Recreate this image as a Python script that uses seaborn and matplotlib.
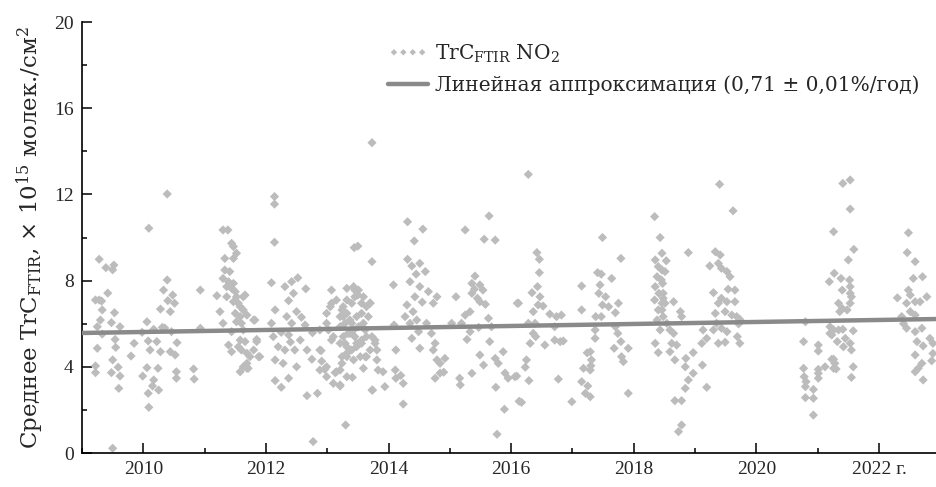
import numpy as np
import pandas as pd
import matplotlib
matplotlib.use('Agg')
import matplotlib.pyplot as plt
from matplotlib.ticker import MultipleLocator
import seaborn as sns

# (decimal year, TrC FTIR NO2, x 10^15 molec/cm^2)
obs_2009 = [(2009.22, 7.10), (2009.28, 7.10), (2009.32, 7.05), (2009.28, 8.99), (2009.39, 8.60),
            (2009.52, 8.72), (2009.50, 8.50), (2009.42, 7.42), (2009.33, 6.64), (2009.30, 6.17),
            (2009.53, 6.51), (2009.25, 5.86), (2009.48, 6.05), (2009.62, 5.86), (2009.33, 5.52),
            (2009.54, 5.27), (2009.25, 4.86), (2009.55, 4.90), (2009.22, 4.04), (2009.22, 3.73),
            (2009.50, 4.32), (2009.48, 3.73), (2009.59, 3.98), (2009.62, 3.57), (2009.60, 3.00),
            (2009.50, 0.22), (2009.80, 4.50), (2009.85, 5.09), (2009.98, 5.60)]
obs_2010 = [(2010.06, 6.09), (2010.09, 10.43), (2010.08, 5.20), (2010.11, 4.78), (2010.22, 5.17),
            (2010.28, 4.70), (2010.17, 5.74), (2010.31, 5.83), (2010.06, 3.96), (2009.99, 3.57),
            (2010.17, 3.39), (2010.15, 3.11), (2010.25, 2.92), (2010.08, 2.77), (2010.09, 2.12),
            (2010.24, 3.93), (2010.28, 6.68), (2010.33, 7.56), (2010.39, 8.03), (2010.39, 12.02),
            (2010.40, 7.07), (2010.48, 7.33), (2010.51, 6.95), (2010.44, 6.56), (2010.46, 5.63),
            (2010.44, 4.70), (2010.52, 4.55), (2010.55, 5.12), (2010.54, 3.77), (2010.54, 3.47),
            (2010.35, 5.80), (2010.82, 3.90), (2010.83, 3.43), (2010.93, 7.56), (2010.93, 5.79)]
obs_2011 = [(2011.25, 6.56), (2011.30, 6.02), (2011.30, 10.35), (2011.38, 10.35), (2011.44, 9.73),
            (2011.47, 9.58), (2011.52, 9.27), (2011.33, 9.03), (2011.47, 9.03), (2011.33, 8.49),
            (2011.41, 8.42), (2011.30, 8.10), (2011.39, 7.95), (2011.47, 7.87), (2011.36, 7.72),
            (2011.44, 7.64), (2011.50, 7.49), (2011.52, 7.25), (2011.36, 7.25), (2011.47, 7.02),
            (2011.55, 6.95), (2011.63, 7.25), (2011.58, 6.79), (2011.63, 6.64), (2011.50, 6.48),
            (2011.58, 6.33), (2011.69, 6.40), (2011.52, 6.09), (2011.60, 6.02), (2011.63, 5.71),
            (2011.80, 6.17), (2011.44, 5.63), (2011.58, 5.24), (2011.66, 5.17), (2011.55, 4.93),
            (2011.60, 4.78), (2011.69, 4.63), (2011.74, 4.47), (2011.69, 4.16), (2011.63, 4.00),
            (2011.71, 3.93), (2011.58, 3.77), (2011.44, 4.70), (2011.80, 4.78), (2011.85, 5.17),
            (2011.90, 4.47), (2011.39, 5.01), (2011.66, 7.33), (2011.82, 6.17), (2011.85, 5.27),
            (2011.88, 4.47), (2011.69, 3.93), (2011.20, 7.30)]
obs_2012 = [(2012.14, 11.90), (2012.14, 11.55), (2012.14, 9.78), (2012.09, 7.90), (2012.31, 7.72),
            (2012.42, 7.95), (2012.52, 8.13), (2012.65, 7.62), (2012.45, 7.41), (2012.37, 7.07),
            (2012.15, 6.64), (2012.50, 6.56), (2012.34, 6.33), (2012.09, 6.02), (2012.42, 6.02),
            (2012.64, 5.94), (2012.76, 5.58), (2012.12, 5.40), (2012.37, 5.48), (2012.56, 5.24),
            (2012.20, 4.93), (2012.31, 4.78), (2012.47, 4.78), (2012.67, 4.78), (2012.15, 4.32),
            (2012.28, 4.16), (2012.50, 4.00), (2012.75, 4.35), (2012.15, 3.36), (2012.25, 3.05),
            (2012.37, 3.47), (2012.67, 2.66), (2012.84, 2.77), (2012.77, 0.53), (2012.90, 4.75),
            (2012.99, 3.54), (2012.96, 3.88), (2012.91, 4.26), (2012.88, 5.71), (2012.88, 4.78),
            (2012.99, 4.00), (2012.88, 3.85), (2012.99, 6.02), (2012.99, 6.48), (2012.25, 5.60),
            (2012.40, 5.15), (2012.58, 6.30)]
obs_2013 = [(2013.07, 7.56), (2013.07, 6.95), (2013.07, 5.24), (2013.30, 1.30), (2013.21, 3.11),
            (2013.13, 3.73), (2013.41, 3.51), (2013.24, 4.47), (2013.29, 5.09), (2013.21, 5.86),
            (2013.26, 6.33), (2013.24, 6.64), (2013.32, 7.10), (2013.45, 7.56), (2013.50, 7.33),
            (2013.56, 6.95), (2013.40, 6.02), (2013.37, 5.55), (2013.45, 5.40), (2013.48, 4.93),
            (2013.40, 4.78), (2013.32, 4.63), (2013.56, 5.09), (2013.62, 5.71), (2013.67, 6.33),
            (2013.62, 4.47), (2013.59, 3.93), (2013.73, 2.92), (2013.44, 9.53), (2013.50, 9.60),
            (2013.73, 14.40), (2013.73, 8.88), (2013.32, 7.64), (2013.43, 7.72), (2013.51, 7.56),
            (2013.59, 7.25), (2013.45, 7.25), (2013.40, 6.95), (2013.26, 6.79), (2013.32, 6.48),
            (2013.21, 6.33), (2013.29, 6.02), (2013.37, 6.17), (2013.48, 6.33), (2013.56, 6.48),
            (2013.64, 6.79), (2013.70, 6.95), (2013.59, 6.02), (2013.51, 5.86), (2013.43, 5.71),
            (2013.34, 5.55), (2013.26, 5.40), (2013.21, 5.09), (2013.32, 4.93), (2013.48, 5.09),
            (2013.56, 5.24), (2013.64, 5.40), (2013.73, 5.40), (2013.78, 5.09), (2013.81, 4.78),
            (2013.70, 4.78), (2013.64, 4.47), (2013.54, 4.47), (2013.43, 4.32), (2013.32, 4.47),
            (2013.24, 4.16), (2013.21, 3.85), (2013.32, 3.54), (2013.15, 3.77), (2013.10, 5.40),
            (2013.02, 5.71), (2013.05, 6.79), (2013.15, 7.10), (2013.10, 3.23), (2013.21, 3.16),
            (2013.70, 6.96), (2013.78, 5.24), (2013.81, 4.32), (2013.83, 3.85), (2013.91, 3.77),
            (2013.74, 2.92), (2013.94, 3.08)]
obs_2014 = [(2014.08, 7.80), (2014.09, 5.94), (2014.12, 4.78), (2014.11, 3.85), (2014.12, 3.47),
            (2014.24, 3.23), (2014.24, 2.27), (2014.20, 3.60), (2014.31, 10.73), (2014.56, 10.39),
            (2014.42, 9.84), (2014.31, 8.99), (2014.38, 8.68), (2014.51, 8.80), (2014.60, 8.42),
            (2014.35, 7.95), (2014.51, 7.72), (2014.65, 7.49), (2014.79, 7.25), (2014.73, 6.95),
            (2014.43, 7.25), (2014.30, 6.87), (2014.40, 6.56), (2014.27, 6.33), (2014.46, 6.17),
            (2014.35, 6.02), (2014.62, 6.02), (2014.49, 5.63), (2014.70, 5.55), (2014.38, 5.32),
            (2014.51, 4.86), (2014.76, 5.09), (2014.73, 4.78), (2014.79, 4.32), (2014.84, 4.16),
            (2014.92, 4.39), (2014.84, 3.71), (2014.76, 3.47), (2014.90, 3.75), (2014.55, 7.00),
            (2014.45, 8.30)]
obs_2015 = [(2015.03, 6.02), (2015.10, 7.25), (2015.25, 10.35), (2015.64, 11.00), (2015.56, 9.92),
            (2015.74, 9.88), (2015.41, 8.21), (2015.36, 7.87), (2015.49, 7.80), (2015.54, 7.56),
            (2015.36, 7.41), (2015.45, 7.18), (2015.49, 7.02), (2015.33, 6.56), (2015.25, 6.40),
            (2015.19, 6.02), (2015.33, 5.63), (2015.28, 5.27), (2015.47, 5.83), (2015.63, 6.25),
            (2015.68, 5.86), (2015.65, 5.17), (2015.49, 4.55), (2015.55, 4.08), (2015.36, 3.70),
            (2015.16, 3.47), (2015.17, 3.16), (2015.74, 4.39), (2015.79, 4.16), (2015.87, 4.70),
            (2015.90, 3.71), (2015.95, 3.47), (2015.75, 3.05), (2015.89, 2.03), (2015.77, 0.87),
            (2015.40, 7.60), (2015.58, 6.90)]
obs_2016 = [(2016.06, 3.54), (2016.10, 6.95), (2016.13, 2.40), (2016.28, 12.93), (2016.42, 9.30),
            (2016.46, 8.99), (2016.46, 8.37), (2016.43, 7.72), (2016.34, 7.44), (2016.47, 7.25),
            (2016.44, 6.87), (2016.52, 6.82), (2016.36, 6.56), (2016.12, 6.95), (2016.28, 6.02),
            (2016.39, 6.02), (2016.36, 5.55), (2016.40, 5.40), (2016.31, 5.09), (2016.55, 5.01),
            (2016.63, 6.45), (2016.74, 6.33), (2016.82, 6.40), (2016.71, 5.86), (2016.71, 5.24),
            (2016.80, 5.17), (2016.85, 5.20), (2016.25, 4.32), (2016.23, 3.98), (2016.09, 3.57),
            (2016.29, 3.36), (2016.77, 3.43), (2016.17, 2.35), (2016.99, 2.38)]
obs_2017 = [(2017.15, 7.75), (2017.15, 6.64), (2017.49, 10.00), (2017.41, 8.37), (2017.47, 8.30),
            (2017.64, 8.10), (2017.45, 7.80), (2017.43, 7.41), (2017.54, 7.25), (2017.49, 6.87),
            (2017.59, 6.79), (2017.70, 6.51), (2017.75, 6.95), (2017.38, 6.33), (2017.47, 6.33),
            (2017.79, 9.03), (2017.37, 5.71), (2017.37, 5.32), (2017.70, 5.86), (2017.74, 5.55),
            (2017.79, 5.17), (2017.91, 4.86), (2017.68, 4.86), (2017.80, 4.47), (2017.83, 4.24),
            (2017.29, 4.70), (2017.24, 4.65), (2017.31, 4.32), (2017.18, 3.93), (2017.29, 3.85),
            (2017.15, 3.31), (2017.25, 3.11), (2017.21, 2.77), (2017.29, 2.61), (2017.91, 2.77),
            (2017.30, 4.05)]
obs_2018 = [(2018.34, 10.97), (2018.43, 10.00), (2018.46, 9.27), (2018.35, 8.96), (2018.40, 8.65),
            (2018.38, 8.18), (2018.45, 8.03), (2018.35, 7.72), (2018.41, 7.41), (2018.34, 7.10),
            (2018.46, 6.95), (2018.40, 6.64), (2018.38, 6.17), (2018.43, 5.71), (2018.35, 5.09),
            (2018.40, 4.66), (2018.53, 8.92), (2018.46, 8.49), (2018.51, 8.42), (2018.47, 7.87),
            (2018.48, 7.41), (2018.48, 7.18), (2018.51, 6.95), (2018.46, 6.64), (2018.48, 6.33),
            (2018.54, 6.02), (2018.65, 7.02), (2018.76, 6.56), (2018.78, 6.33), (2018.59, 5.71),
            (2018.65, 5.55), (2018.62, 5.09), (2018.70, 5.01), (2018.59, 4.70), (2018.67, 4.32),
            (2018.85, 4.39), (2018.97, 4.66), (2018.84, 4.00), (2018.89, 3.39), (2018.97, 3.70),
            (2018.84, 3.00), (2018.67, 2.43), (2018.78, 2.43), (2018.78, 1.30), (2018.73, 0.99),
            (2018.89, 9.30), (2019.13, 5.71), (2019.11, 5.09), (2019.12, 4.08), (2019.19, 3.05),
            (2019.19, 5.32)]
obs_2019 = [(2019.40, 12.47), (2019.62, 11.24), (2019.24, 8.68), (2019.33, 9.34), (2019.41, 9.19),
            (2019.38, 8.80), (2019.43, 8.57), (2019.52, 8.42), (2019.57, 8.18), (2019.30, 7.44),
            (2019.54, 7.60), (2019.65, 7.56), (2019.43, 7.18), (2019.52, 7.02), (2019.65, 7.02),
            (2019.38, 6.95), (2019.49, 6.56), (2019.60, 6.40), (2019.68, 6.33), (2019.33, 6.48),
            (2019.35, 6.02), (2019.43, 5.79), (2019.52, 5.63), (2019.30, 5.71), (2019.38, 5.09),
            (2019.49, 5.14), (2019.69, 5.40), (2019.73, 5.09), (2019.71, 5.99), (2019.73, 6.20)]
obs_2020 = [(2020.80, 6.09), (2020.77, 5.17), (2020.77, 3.93), (2020.78, 3.54), (2020.81, 3.31),
            (2020.80, 3.08), (2020.80, 2.57), (2020.93, 2.54), (2020.93, 2.95), (2020.93, 1.76)]
obs_2021 = [(2021.01, 5.01), (2021.01, 4.73), (2021.01, 3.70), (2021.01, 3.47), (2021.01, 3.88),
            (2021.12, 4.00), (2021.26, 3.93), (2021.30, 3.90), (2021.26, 4.35), (2021.26, 10.27),
            (2021.19, 7.95), (2021.27, 8.34), (2021.38, 8.10), (2021.40, 7.56), (2021.52, 8.03),
            (2021.53, 7.72), (2021.53, 7.41), (2021.55, 7.25), (2021.41, 12.51), (2021.53, 12.67),
            (2021.53, 11.32), (2021.59, 9.45), (2021.50, 8.96), (2021.34, 6.95), (2021.40, 6.71),
            (2021.48, 6.64), (2021.36, 6.56), (2021.53, 6.95), (2021.20, 5.86), (2021.26, 5.71),
            (2021.34, 5.71), (2021.41, 5.74), (2021.20, 5.55), (2021.23, 5.48), (2021.32, 5.17),
            (2021.45, 5.32), (2021.53, 5.09), (2021.58, 5.67), (2021.42, 4.93), (2021.55, 4.78),
            (2021.58, 4.00), (2021.55, 3.51), (2021.23, 4.35), (2021.28, 4.16)]
obs_2022 = [(2022.48, 10.22), (2022.46, 9.30), (2022.59, 8.88), (2022.56, 8.10), (2022.71, 8.18),
            (2022.48, 7.56), (2022.51, 7.33), (2022.45, 6.95), (2022.59, 7.02), (2022.67, 7.02),
            (2022.78, 7.25), (2022.37, 6.33), (2022.51, 6.56), (2022.59, 6.40), (2022.45, 5.79),
            (2022.59, 5.63), (2022.70, 5.79), (2022.62, 5.17), (2022.72, 4.97), (2022.83, 5.32),
            (2022.88, 5.09), (2022.59, 4.55), (2022.70, 4.16), (2022.64, 3.93), (2022.59, 3.77),
            (2022.72, 3.39), (2022.86, 4.28), (2022.88, 4.62), (2022.30, 7.20), (2022.40, 6.00)]

# linear fit (0.71 +- 0.01 %/yr) as drawn
trend_years = [2009.0, 2023.0]
trend_values = [5.57, 6.22]

year_ticks = [2010, 2012, 2014, 2016, 2018, 2020, 2022]
year_labels = ['2010', '2012', '2014', '2016', '2018', '2020', '2022 г.']

all_obs = (obs_2009 + obs_2010 + obs_2011 + obs_2012 + obs_2013 + obs_2014 + obs_2015
           + obs_2016 + obs_2017 + obs_2018 + obs_2019 + obs_2020 + obs_2021 + obs_2022)
df = pd.DataFrame(all_obs, columns=['year', 'trc'])
trend_df = pd.DataFrame({'year': trend_years, 'trc': trend_values})

sns.set_style('ticks')
plt.rcParams['font.family'] = ['Liberation Serif', 'DejaVu Serif']
plt.rcParams['mathtext.fontset'] = 'custom'
plt.rcParams['mathtext.rm'] = 'DejaVu Serif'
plt.rcParams['mathtext.it'] = 'DejaVu Serif:italic'

fig, ax = plt.subplots(figsize=(9.36, 4.87), dpi=100)
fig.subplots_adjust(left=0.0876, right=1.0, bottom=0.0698, top=0.9548)

sns.scatterplot(data=df, x='year', y='trc', marker='D', s=22, color='#bcbcbc',
                edgecolor='none', linewidth=0, ax=ax,
                label=r'TrC$_{\mathrm{FTIR}}$ NO$_2$', zorder=2)
sns.lineplot(data=trend_df, x='year', y='trc', color='#8a8a8a', linewidth=3.2, ax=ax,
             label='Линейная аппроксимация (0,71 ± 0,01%/год)', zorder=3)

ax.set_xlim(2009.0, 2022.93)
ax.set_ylim(0, 20)
ax.set_xticks(year_ticks)
ax.set_xticklabels(year_labels)
ax.xaxis.set_minor_locator(MultipleLocator(1))
ax.yaxis.set_major_locator(MultipleLocator(4))
ax.yaxis.set_minor_locator(MultipleLocator(2))
ax.tick_params(which='both', direction='in', labelsize=14, width=1.1, color='black')
ax.tick_params(which='major', length=7, pad=6)
ax.tick_params(which='minor', length=3.5)
ax.tick_params(axis='x', which='both', top=False)
ax.tick_params(axis='y', which='both', right=False)

ax.set_xlabel('')
ax.set_ylabel(r'Среднее TrC$_{\mathrm{FTIR}}$, × 10$^{15}$ молек./см$^2$',
              fontsize=16.5, family='DejaVu Serif', labelpad=6)

sns.despine(ax=ax)
for side in ['left', 'bottom']:
    ax.spines[side].set_linewidth(1.2)
    ax.spines[side].set_color('black')

leg = ax.legend(loc='upper left', bbox_to_anchor=(0.337, 0.995), frameon=False,
                prop={'family': 'DejaVu Serif', 'size': 14.5},
                scatterpoints=4, scatteryoffsets=[0.5], markerscale=0.7,
                handlelength=2.0, handletextpad=0.35, labelspacing=0.55)

plt.savefig('out.png', dpi=100)
